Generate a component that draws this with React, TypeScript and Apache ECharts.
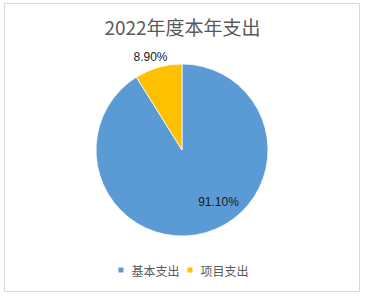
import React, { useEffect, useRef } from "react";
import * as echarts from "echarts";

const titleText = "2022年度本年支出";
const categories = ["基本支出", "项目支出"];
const values = [91.1, 8.9];
const colors = ["#5B9BD5", "#FFC000"];

export default function App() {
  const ref = useRef<HTMLDivElement>(null);
  useEffect(() => {
    if (!ref.current) return;
    const chart = echarts.init(ref.current, null, { renderer: "svg" });
    chart.setOption({
      animation: false,
      backgroundColor: "#ffffff",
      title: {
        text: titleText,
        left: "center",
        top: 12,
        textStyle: {
          fontFamily: "Noto Sans CJK SC",
          fontSize: 19,
          fontWeight: "normal",
          color: "#595959",
        },
      },
      legend: {
        bottom: 16,
        left: "center",
        icon: "rect",
        itemWidth: 7,
        itemHeight: 7,
        itemGap: 6,
        data: categories,
        textStyle: {
          fontFamily: "Noto Sans CJK SC",
          fontSize: 12,
          color: "#595959",
          padding: [0, 0, 0, 2],
        },
      },
      graphic: [
        {
          type: "rect",
          shape: { x: 4.5, y: 3.5, width: 355, height: 288 },
          style: { fill: "none", stroke: "#d9d9d9", lineWidth: 1 },
          silent: true,
        },
      ],
      series: [
        {
          type: "pie",
          center: [182, 150],
          radius: 86,
          startAngle: 90,
          clockwise: true,
          data: categories.map((name, i) => ({
            name,
            value: values[i],
            itemStyle: { color: colors[i] },
          })),
          itemStyle: { borderColor: "#ffffff", borderWidth: 0.75 },
          label: {
            show: true,
            position: "inside",
            formatter: (p: any) => Number(p.value).toFixed(2) + "%",
            fontFamily: "Liberation Sans",
            fontSize: 12,
            color: "#1a1a1a",
          },
          labelLine: { show: false },
          labelLayout: (p: any) =>
            p.dataIndex === 0
              ? { x: 218.5, y: 202, align: "center", verticalAlign: "middle" }
              : { x: 150.5, y: 57, align: "center", verticalAlign: "middle" },
        },
      ],
    });
    return () => chart.dispose();
  }, []);
  return (
    <div
      ref={ref}
      style={{ position: "absolute", left: 0, top: 0, width: 365, height: 297 }}
    />
  );
}
